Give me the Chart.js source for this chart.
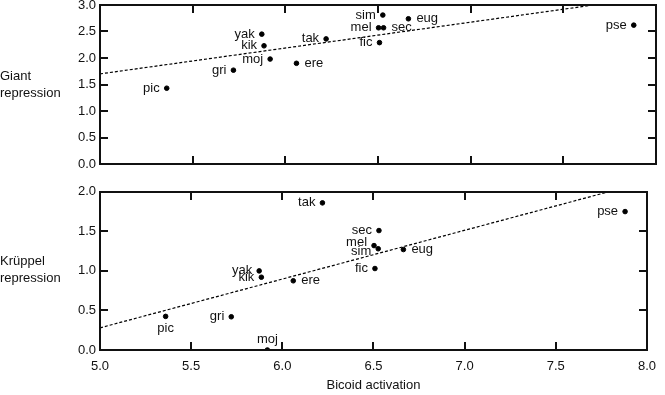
<!DOCTYPE html>
<html>
<head>
<meta charset="utf-8">
<script src="https://cdn.jsdelivr.net/npm/chart.js@4.4.0/dist/chart.umd.min.js"></script>
<style>
  body { margin: 0; background: #fff; font-family: "Liberation Sans", Arial, sans-serif; }
  #wrap { position: relative; width: 665px; height: 395px; overflow: hidden; }
  #wrap canvas { position: absolute; left: 0; }
  .ylab { position: absolute; left: 0; font-size: 13px; line-height: 17px; color: #111; }
  .box { position: absolute; border: 2px solid #111; box-sizing: border-box; }
  .tk { position: absolute; background: #111; }
</style>
</head>
<body>
<div id="wrap">
  <canvas id="giant" style="top:-10px"></canvas>
  <canvas id="kruppel" style="top:180px"></canvas>
  <div class="ylab" style="top:67px">Giant<br>repression</div>
  <div class="ylab" style="top:252px">Krüppel<br>repression</div>
</div>
<script>
var species = ['pic', 'gri', 'yak', 'kik', 'moj', 'ere', 'tak', 'mel', 'sim', 'sec', 'fic', 'eug', 'pse'];
var bicoid  = [5.36, 5.72, 5.873, 5.885, 5.918, 6.06, 6.22, 6.503, 6.526, 6.53, 6.508, 6.664, 7.88];
var giant   = [1.43, 1.77, 2.45, 2.23, 1.98, 1.90, 2.36, 2.57, 2.81, 2.57, 2.29, 2.74, 2.62];
var kruppel = [0.425, 0.42, 1.00, 0.92, 0.00, 0.875, 1.86, 1.32, 1.28, 1.51, 1.03, 1.27, 1.75];

// regression lines, ends at x = 5 and x = 8
var fitX       = [5, 8];
var giantFit   = [1.70, 3.164];
var kruppelFit = [0.28, 2.13];

// x tick values
var xTicks = [5, 5.5, 6, 6.5, 7, 7.5, 8];

// where the name goes relative to its dot
var giantPlace   = ['l', 'l', 'l', 'l', 'l', 'r', 'l', 'l', 'l', 'r', 'l', 'r', 'l'];
var kruppelPlace = ['b', 'l', 'l', 'l', 'a', 'r', 'l', 'lu', 'ld', 'l', 'l', 'r', 'l'];

var FONT = '"Liberation Sans", Arial, sans-serif';

function pts(xs, ys) {
  return xs.map(function (x, i) { return { x: x, y: ys[i] }; });
}

// species names next to the dots
var namePlugin = {
  id: 'names',
  afterDatasetsDraw: function (chart) {
    var ctx = chart.ctx;
    var meta = chart.getDatasetMeta(1);
    var place = chart.options.plugins.names.place;
    ctx.save();
    ctx.font = '13px ' + FONT;
    ctx.fillStyle = '#111';
    ctx.textBaseline = 'middle';
    meta.data.forEach(function (el, i) {
      var p = place[i], x = el.x, y = el.y;
      if (p[0] === 'l') {
        ctx.textAlign = 'right';
        if (p === 'lu') y -= 3;
        if (p === 'ld') y += 3;
        ctx.fillText(species[i], x - 7, y);
      } else if (p === 'r') {
        ctx.textAlign = 'left';
        ctx.fillText(species[i], x + 8, y);
      } else if (p === 'b') {
        ctx.textAlign = 'center';
        ctx.fillText(species[i], x, y + 12);
      } else {
        ctx.textAlign = 'center';
        ctx.fillText(species[i], x, y - 11);
      }
    });
    ctx.restore();
  }
};

// frame and inward ticks as page elements, placed from the chart's own scales
function addFrame(chart, offsetTop) {
  var wrap = document.getElementById('wrap');
  var a = chart.chartArea, xs = chart.scales.x, ys = chart.scales.y;
  var L = Math.round(a.left), R = Math.round(a.right);
  var T = Math.round(a.top) + offsetTop, B = Math.round(a.bottom) + offsetTop;
  function div(cls, l, t, w, h) {
    var d = document.createElement('div');
    d.className = cls;
    d.style.left = l + 'px'; d.style.top = t + 'px';
    d.style.width = w + 'px'; d.style.height = h + 'px';
    wrap.appendChild(d);
  }
  div('box', L - 1, T - 1, R - L + 2, B - T + 2);
  xTicks.forEach(function (v) {
    var px = Math.round(xs.getPixelForValue(v));
    div('tk', px - 0.7, T, 1.4, 8);
    div('tk', px - 0.7, B - 8, 1.4, 8);
  });
  ys.ticks.forEach(function (t) {
    var py = Math.round(ys.getPixelForValue(t.value)) + offsetTop;
    div('tk', L, py - 0.7, 8, 1.4);
    div('tk', R - 8, py - 0.7, 8, 1.4);
  });
}

function makeChart(id, h, pad, ys, fit, yMax, place, showX) {
  var el = document.getElementById(id);
  el.width = 665; el.height = h;
  return new Chart(el, {
    type: 'scatter',
    data: {
      datasets: [{
        type: 'line',
        data: pts(fitX, fit),
        borderColor: '#000',
        borderWidth: 1.2,
        borderDash: [3, 2],
        pointRadius: 0,
        fill: false
      }, {
        data: pts(bicoid, ys),
        backgroundColor: '#000',
        borderColor: '#000',
        pointRadius: 2.3,
        pointHoverRadius: 2.3
      }]
    },
    options: {
      responsive: false,
      animation: false,
      layout: { padding: pad },
      plugins: {
        legend: { display: false },
        tooltip: { enabled: false },
        names: { place: place }
      },
      scales: {
        x: {
          type: 'linear', min: 5, max: 8,
          display: showX,
          grid: { display: false, drawTicks: false },
          border: { display: false },
          ticks: {
            stepSize: 0.5, padding: 9, color: '#111',
            font: { family: FONT, size: 13 },
            callback: function (v) { return v.toFixed(1); }
          },
          title: {
            display: showX, text: 'Bicoid activation', color: '#111',
            font: { family: FONT, size: 13 },
            padding: { top: 0, bottom: 2 }
          },
          afterFit: function (s) { s.height = showX ? 45 : 0; }
        },
        y: {
          min: 0, max: yMax,
          grid: { display: false, drawTicks: false },
          border: { display: false },
          ticks: {
            stepSize: 0.5, padding: 4, color: '#111',
            font: { family: FONT, size: 13 },
            callback: function (v) { return v.toFixed(1); }
          },
          afterFit: function (s) { s.width = 100; }
        }
      }
    },
    plugins: [namePlugin]
  });
}

var c1 = makeChart('giant', 190, { top: 15, right: 9, bottom: 16, left: 0 }, giant, giantFit, 3, giantPlace, false);
var c2 = makeChart('kruppel', 215, { top: 10, right: 9, bottom: 0, left: 0 }, kruppel, kruppelFit, 2, kruppelPlace, true);
addFrame(c1, -10);
addFrame(c2, 180);
</script>
</body>
</html>
